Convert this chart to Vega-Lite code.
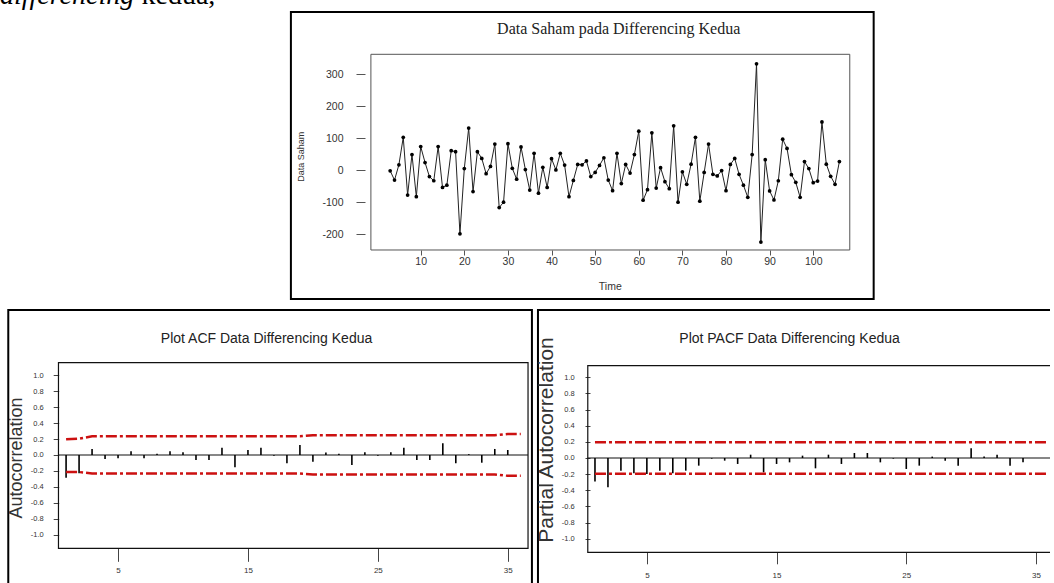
{
  "$schema": "https://vega.github.io/schema/vega-lite/v6.json",
  "width": 1054,
  "height": 583,
  "autosize": {"type": "fit", "contains": "padding"},
  "padding": 0,
  "background": "white",
  "config": {
    "view": {"stroke": null},
    "axis": {"domain": false, "grid": false, "labelOverlap": false, "labelFlush": false, "labelBound": false, "title": null}
  },
  "datasets": {
    "saham": [{"time":3,"value":-2},{"time":4,"value":-31},{"time":5,"value":17},{"time":6,"value":103},{"time":7,"value":-78},{"time":8,"value":49},{"time":9,"value":-83},{"time":10,"value":74},{"time":11,"value":24},{"time":12,"value":-20},{"time":13,"value":-33},{"time":14,"value":74},{"time":15,"value":-54},{"time":16,"value":-47},{"time":17,"value":61},{"time":18,"value":58},{"time":19,"value":-199},{"time":20,"value":5},{"time":21,"value":132},{"time":22,"value":-67},{"time":23,"value":58},{"time":24,"value":37},{"time":25,"value":-11},{"time":26,"value":12},{"time":27,"value":82},{"time":28,"value":-117},{"time":29,"value":-100},{"time":30,"value":83},{"time":31,"value":6},{"time":32,"value":-28},{"time":33,"value":73},{"time":34,"value":2},{"time":35,"value":-62},{"time":36,"value":53},{"time":37,"value":-72},{"time":38,"value":9},{"time":39,"value":-54},{"time":40,"value":36},{"time":41,"value":1},{"time":42,"value":53},{"time":43,"value":16},{"time":44,"value":-83},{"time":45,"value":-32},{"time":46,"value":18},{"time":47,"value":17},{"time":48,"value":29},{"time":49,"value":-20},{"time":50,"value":-7},{"time":51,"value":15},{"time":52,"value":39},{"time":53,"value":-31},{"time":54,"value":-64},{"time":55,"value":53},{"time":56,"value":-42},{"time":57,"value":18},{"time":58,"value":-9},{"time":59,"value":49},{"time":60,"value":122},{"time":61,"value":-94},{"time":62,"value":-61},{"time":63,"value":117},{"time":64,"value":-56},{"time":65,"value":8},{"time":66,"value":-36},{"time":67,"value":-58},{"time":68,"value":139},{"time":69,"value":-100},{"time":70,"value":-5},{"time":71,"value":-44},{"time":72,"value":19},{"time":73,"value":103},{"time":74,"value":-97},{"time":75,"value":-7},{"time":76,"value":82},{"time":77,"value":-13},{"time":78,"value":-18},{"time":79,"value":-1},{"time":80,"value":-64},{"time":81,"value":18},{"time":82,"value":37},{"time":83,"value":-13},{"time":84,"value":-47},{"time":85,"value":-85},{"time":86,"value":49},{"time":87,"value":333},{"time":88,"value":-225},{"time":89,"value":33},{"time":90,"value":-65},{"time":91,"value":-93},{"time":92,"value":-33},{"time":93,"value":97},{"time":94,"value":68},{"time":95,"value":-14},{"time":96,"value":-38},{"time":97,"value":-85},{"time":98,"value":27},{"time":99,"value":5},{"time":100,"value":-39},{"time":101,"value":-34},{"time":102,"value":151},{"time":103,"value":19},{"time":104,"value":-19},{"time":105,"value":-44},{"time":106,"value":27}],
    "acf": [{"lag":1,"r":-0.285},{"lag":2,"r":-0.23},{"lag":3,"r":0.075},{"lag":4,"r":-0.05},{"lag":5,"r":-0.04},{"lag":6,"r":0.046},{"lag":7,"r":-0.04},{"lag":8,"r":0.017},{"lag":9,"r":0.046},{"lag":10,"r":0.034},{"lag":11,"r":-0.063},{"lag":12,"r":-0.063},{"lag":13,"r":0.092},{"lag":14,"r":-0.155},{"lag":15,"r":0.063},{"lag":16,"r":0.092},{"lag":17,"r":-0.01},{"lag":18,"r":-0.105},{"lag":19,"r":0.126},{"lag":20,"r":-0.084},{"lag":21,"r":0.03},{"lag":22,"r":0.017},{"lag":23,"r":-0.126},{"lag":24,"r":0.034},{"lag":25,"r":-0.01},{"lag":26,"r":0.034},{"lag":27,"r":0.092},{"lag":28,"r":-0.063},{"lag":29,"r":-0.063},{"lag":30,"r":0.147},{"lag":31,"r":-0.105},{"lag":32,"r":0.01},{"lag":33,"r":-0.097},{"lag":34,"r":0.076},{"lag":35,"r":0.063}],
    "acfBand": [{"lag":1,"upper":0.198,"lower":-0.214},{"lag":2,"upper":0.205,"lower":-0.214},{"lag":3,"upper":0.235,"lower":-0.232},{"lag":4,"upper":0.235,"lower":-0.232},{"lag":5,"upper":0.235,"lower":-0.232},{"lag":6,"upper":0.235,"lower":-0.232},{"lag":7,"upper":0.235,"lower":-0.232},{"lag":8,"upper":0.235,"lower":-0.232},{"lag":9,"upper":0.235,"lower":-0.232},{"lag":10,"upper":0.235,"lower":-0.232},{"lag":11,"upper":0.235,"lower":-0.232},{"lag":12,"upper":0.235,"lower":-0.232},{"lag":13,"upper":0.235,"lower":-0.232},{"lag":14,"upper":0.235,"lower":-0.232},{"lag":15,"upper":0.235,"lower":-0.232},{"lag":16,"upper":0.235,"lower":-0.232},{"lag":17,"upper":0.235,"lower":-0.232},{"lag":18,"upper":0.235,"lower":-0.232},{"lag":19,"upper":0.235,"lower":-0.232},{"lag":20,"upper":0.248,"lower":-0.244},{"lag":21,"upper":0.248,"lower":-0.244},{"lag":22,"upper":0.248,"lower":-0.244},{"lag":23,"upper":0.248,"lower":-0.244},{"lag":24,"upper":0.248,"lower":-0.244},{"lag":25,"upper":0.248,"lower":-0.244},{"lag":26,"upper":0.248,"lower":-0.244},{"lag":27,"upper":0.248,"lower":-0.244},{"lag":28,"upper":0.248,"lower":-0.244},{"lag":29,"upper":0.248,"lower":-0.244},{"lag":30,"upper":0.248,"lower":-0.244},{"lag":31,"upper":0.248,"lower":-0.244},{"lag":32,"upper":0.248,"lower":-0.244},{"lag":33,"upper":0.248,"lower":-0.244},{"lag":34,"upper":0.248,"lower":-0.244},{"lag":35,"upper":0.265,"lower":-0.262},{"lag":36,"upper":0.265,"lower":-0.262}],
    "pacf": [{"lag":1,"r":-0.29},{"lag":2,"r":-0.363},{"lag":3,"r":-0.157},{"lag":4,"r":-0.19},{"lag":5,"r":-0.198},{"lag":6,"r":-0.157},{"lag":7,"r":-0.19},{"lag":8,"r":-0.157},{"lag":9,"r":-0.095},{"lag":10,"r":-0.008},{"lag":11,"r":-0.033},{"lag":12,"r":-0.074},{"lag":13,"r":0.041},{"lag":14,"r":-0.178},{"lag":15,"r":-0.074},{"lag":16,"r":-0.054},{"lag":17,"r":0.029},{"lag":18,"r":-0.128},{"lag":19,"r":0.041},{"lag":20,"r":-0.074},{"lag":21,"r":0.062},{"lag":22,"r":0.062},{"lag":23,"r":-0.054},{"lag":24,"r":-0.008},{"lag":25,"r":-0.136},{"lag":26,"r":-0.095},{"lag":27,"r":0.017},{"lag":28,"r":-0.033},{"lag":29,"r":-0.095},{"lag":30,"r":0.12},{"lag":31,"r":0.017},{"lag":32,"r":0.041},{"lag":33,"r":-0.095},{"lag":34,"r":-0.054}],
    "pacfBand": [{"lag":1,"upper":0.196,"lower":-0.196},{"lag":2,"upper":0.196,"lower":-0.196},{"lag":3,"upper":0.196,"lower":-0.196},{"lag":4,"upper":0.196,"lower":-0.196},{"lag":5,"upper":0.196,"lower":-0.196},{"lag":6,"upper":0.196,"lower":-0.196},{"lag":7,"upper":0.196,"lower":-0.196},{"lag":8,"upper":0.196,"lower":-0.196},{"lag":9,"upper":0.196,"lower":-0.196},{"lag":10,"upper":0.196,"lower":-0.196},{"lag":11,"upper":0.196,"lower":-0.196},{"lag":12,"upper":0.196,"lower":-0.196},{"lag":13,"upper":0.196,"lower":-0.196},{"lag":14,"upper":0.196,"lower":-0.196},{"lag":15,"upper":0.196,"lower":-0.196},{"lag":16,"upper":0.196,"lower":-0.196},{"lag":17,"upper":0.196,"lower":-0.196},{"lag":18,"upper":0.196,"lower":-0.196},{"lag":19,"upper":0.196,"lower":-0.196},{"lag":20,"upper":0.196,"lower":-0.196},{"lag":21,"upper":0.196,"lower":-0.196},{"lag":22,"upper":0.196,"lower":-0.196},{"lag":23,"upper":0.196,"lower":-0.196},{"lag":24,"upper":0.196,"lower":-0.196},{"lag":25,"upper":0.196,"lower":-0.196},{"lag":26,"upper":0.196,"lower":-0.196},{"lag":27,"upper":0.196,"lower":-0.196},{"lag":28,"upper":0.196,"lower":-0.196},{"lag":29,"upper":0.196,"lower":-0.196},{"lag":30,"upper":0.196,"lower":-0.196},{"lag":31,"upper":0.196,"lower":-0.196},{"lag":32,"upper":0.196,"lower":-0.196},{"lag":33,"upper":0.196,"lower":-0.196},{"lag":34,"upper":0.196,"lower":-0.196},{"lag":35,"upper":0.196,"lower":-0.196},{"lag":36,"upper":0.196,"lower":-0.196}]
  },
  "resolve": {"scale": {"x": "independent", "y": "independent"}},
  "layer": [
    {
      "layer": [
        {"data": {"values": [{}]}, "mark": {"type": "rect", "filled": false, "stroke": "#000", "strokeWidth": 2},
         "encoding": {"x": {"datum": -19.76, "type": "quantitative"}, "x2": {"datum": 113.86}, "y": {"datum": 495.3, "type": "quantitative"}, "y2": {"datum": -403.3}}},
        {"data": {"values": [{}]}, "mark": {"type": "rect", "filled": false, "stroke": "#555", "strokeWidth": 1},
         "encoding": {"x": {"datum": -1.42, "type": "quantitative"}, "x2": {"datum": 108.38}, "y": {"datum": 362.9, "type": "quantitative"}, "y2": {"datum": -249.8}}},
        {"data": {"name": "saham"}, "mark": {"type": "line", "color": "#222", "strokeWidth": 1},
         "encoding": {
           "x": {"field": "time", "type": "quantitative", "scale": {"domain": [-86.46, 154.29], "nice": false, "zero": false},
                 "axis": {"orient": "bottom", "offset": -333, "values": [10,20,30,40,50,60,70,80,90,100], "tickSize": 5, "tickColor": "#555", "labelPadding": 1, "labelFont": "Liberation Sans", "labelFontSize": 10.5, "labelColor": "#333", "title": null}},
           "y": {"field": "value", "type": "quantitative", "scale": {"domain": [-1292.4, 532.9], "nice": false, "zero": false},
                 "axis": {"orient": "left", "offset": -365, "values": [-200,-100,0,100,200,300], "tickSize": 9, "tickColor": "#555", "labelPadding": 13, "labelFont": "Liberation Sans", "labelFontSize": 10.5, "labelColor": "#333", "title": null, "labelExpr": "datum.value < 0 ? '-' + format(-datum.value, 'd') : format(datum.value, 'd')"}}
         }},
        {"data": {"name": "saham"}, "mark": {"type": "circle", "color": "#000", "size": 14, "opacity": 1},
         "encoding": {"x": {"field": "time", "type": "quantitative"}, "y": {"field": "value", "type": "quantitative"}}},
        {"data": {"values": [{}]}, "mark": {"type": "text", "text": "Data Saham pada Differencing Kedua", "font": "Liberation Serif", "fontSize": 16, "color": "#222", "align": "center", "baseline": "alphabetic"},
         "encoding": {"x": {"datum": 55.39, "type": "quantitative"}, "y": {"datum": 426.4, "type": "quantitative"}}},
        {"data": {"values": [{}]}, "mark": {"type": "text", "text": "Time", "font": "Liberation Sans", "fontSize": 10.5, "color": "#333", "align": "center", "baseline": "middle"},
         "encoding": {"x": {"datum": 53.47, "type": "quantitative"}, "y": {"datum": -364.7, "type": "quantitative"}}},
        {"data": {"values": [{}]}, "mark": {"type": "text", "text": "Data Saham", "font": "Liberation Sans", "fontSize": 9, "color": "#333", "align": "center", "baseline": "middle", "angle": 270},
         "encoding": {"x": {"datum": -17.41, "type": "quantitative"}, "y": {"datum": 42.3, "type": "quantitative"}}},
        {"data": {"values": [{}]}, "mark": {"type": "text", "text": "differencing", "font": "Liberation Serif", "fontSize": 28, "fontStyle": "italic", "color": "#000", "align": "left", "baseline": "alphabetic", "clip": true},
         "encoding": {"x": {"datum": -86.46, "type": "quantitative"}, "y": {"datum": 520.4, "type": "quantitative"}}},
        {"data": {"values": [{}]}, "mark": {"type": "text", "text": "kedua,", "font": "Liberation Serif", "fontSize": 28, "color": "#000", "align": "left", "baseline": "alphabetic", "clip": true},
         "encoding": {"x": {"datum": -54.02, "type": "quantitative"}, "y": {"datum": 520.4, "type": "quantitative"}}}
      ]
    },
    {
      "layer": [
        {"data": {"values": [{}]}, "mark": {"type": "rect", "filled": false, "stroke": "#000", "strokeWidth": 2, "clip": true},
         "encoding": {"x": {"datum": -3.45, "type": "quantitative"}, "x2": {"datum": 36.86}, "y": {"datum": 1.824, "type": "quantitative"}, "y2": {"datum": -1.75}}},
        {"data": {"values": [{}]}, "mark": {"type": "rect", "filled": false, "stroke": "#111", "strokeWidth": 1.2},
         "encoding": {"x": {"datum": 0.414, "type": "quantitative"}, "x2": {"datum": 36.56}, "y": {"datum": 1.161, "type": "quantitative"}, "y2": {"datum": -1.174}}},
        {"data": {"values": [{}]}, "mark": {"type": "rule", "color": "#111", "strokeWidth": 1.2},
         "encoding": {"x": {"datum": 0.414, "type": "quantitative"}, "x2": {"datum": 36.56}, "y": {"datum": 0, "type": "quantitative"}}},
        {"data": {"name": "acf"}, "mark": {"type": "rule", "color": "#000", "strokeWidth": 1.6},
         "encoding": {
           "x": {"field": "lag", "type": "quantitative", "scale": {"domain": [-4.087, 76.74], "nice": false, "zero": false},
                 "axis": {"orient": "bottom", "offset": -34.7, "values": [5,15,25,35], "tickSize": 13, "tickColor": "#444", "labelPadding": 5, "labelFont": "Liberation Sans", "labelFontSize": 8, "labelColor": "#333", "title": null}},
           "y": {"field": "r", "type": "quantitative", "scale": {"domain": [-1.61, 5.723], "nice": false, "zero": false},
                 "axis": {"orient": "left", "offset": -58.7, "values": [-1,-0.8,-0.6,-0.4,-0.2,0,0.2,0.4,0.6,0.8,1], "tickSize": 5.5, "tickColor": "#444", "labelPadding": 10, "labelFont": "Liberation Sans", "labelFontSize": 7.5, "labelColor": "#333", "title": null, "labelExpr": "datum.value < 0 ? '-' + format(-datum.value, '.1f') : format(datum.value, '.1f')"}},
           "y2": {"datum": 0}
         }},
        {"data": {"name": "acfBand"}, "mark": {"type": "line", "color": "#cc1111", "strokeWidth": 2.5, "strokeDash": [11, 3, 3, 3]},
         "encoding": {"x": {"field": "lag", "type": "quantitative"}, "y": {"field": "upper", "type": "quantitative"}}},
        {"data": {"name": "acfBand"}, "mark": {"type": "line", "color": "#cc1111", "strokeWidth": 2.5, "strokeDash": [11, 3, 3, 3]},
         "encoding": {"x": {"field": "lag", "type": "quantitative"}, "y": {"field": "lower", "type": "quantitative"}}},
        {"data": {"values": [{}]}, "mark": {"type": "text", "text": "Plot ACF Data Differencing Kedua", "font": "Liberation Sans", "fontSize": 14, "color": "#222", "align": "center", "baseline": "alphabetic"},
         "encoding": {"x": {"datum": 16.43, "type": "quantitative"}, "y": {"datum": 1.409, "type": "quantitative"}}},
        {"data": {"values": [{}]}, "mark": {"type": "text", "text": "Autocorrelation", "font": "Liberation Sans", "fontSize": 18, "color": "#333", "align": "center", "baseline": "middle", "angle": 270},
         "encoding": {"x": {"datum": -2.745, "type": "quantitative"}, "y": {"datum": -0.038, "type": "quantitative"}}}
      ]
    },
    {
      "layer": [
        {"data": {"values": [{}]}, "mark": {"type": "rect", "filled": false, "stroke": "#000", "strokeWidth": 2, "clip": true},
         "encoding": {"x": {"datum": -3.395, "type": "quantitative"}, "x2": {"datum": 40}, "y": {"datum": 1.834, "type": "quantitative"}, "y2": {"datum": -1.75}}},
        {"data": {"values": [{}]}, "mark": {"type": "rect", "filled": false, "stroke": "#111", "strokeWidth": 1.2, "clip": true},
         "encoding": {"x": {"datum": 0.445, "type": "quantitative"}, "x2": {"datum": 40}, "y": {"datum": 1.144, "type": "quantitative"}, "y2": {"datum": -1.169}}},
        {"data": {"values": [{}]}, "mark": {"type": "rule", "color": "#111", "strokeWidth": 1.2},
         "encoding": {"x": {"datum": 0.445, "type": "quantitative"}, "x2": {"datum": 36.08}, "y": {"datum": 0, "type": "quantitative"}}},
        {"data": {"name": "pacf"}, "mark": {"type": "rule", "color": "#000", "strokeWidth": 1.6},
         "encoding": {
           "x": {"field": "lag", "type": "quantitative", "scale": {"domain": [-44.87, 36.08], "nice": false, "zero": false},
                 "axis": {"orient": "bottom", "offset": -30.7, "values": [5,15,25,35], "tickSize": 11.5, "tickColor": "#444", "labelPadding": 8, "labelFont": "Liberation Sans", "labelFontSize": 8, "labelColor": "#333", "title": null}},
           "y": {"field": "r", "type": "quantitative", "scale": {"domain": [-1.549, 5.675], "nice": false, "zero": false},
                 "axis": {"orient": "left", "offset": -590, "values": [-1,-0.8,-0.6,-0.4,-0.2,0,0.2,0.4,0.6,0.8,1], "tickSize": 5, "tickColor": "#444", "labelPadding": 10.7, "labelFont": "Liberation Sans", "labelFontSize": 7.5, "labelColor": "#333", "title": null, "labelExpr": "datum.value < 0 ? '-' + format(-datum.value, '.1f') : format(datum.value, '.1f')"}},
           "y2": {"datum": 0}
         }},
        {"data": {"name": "pacfBand"}, "mark": {"type": "line", "color": "#cc1111", "strokeWidth": 2.5, "strokeDash": [11, 3, 3, 3]},
         "encoding": {"x": {"field": "lag", "type": "quantitative"}, "y": {"field": "upper", "type": "quantitative"}}},
        {"data": {"name": "pacfBand"}, "mark": {"type": "line", "color": "#cc1111", "strokeWidth": 2.5, "strokeDash": [11, 3, 3, 3]},
         "encoding": {"x": {"field": "lag", "type": "quantitative"}, "y": {"field": "lower", "type": "quantitative"}}},
        {"data": {"values": [{}]}, "mark": {"type": "text", "text": "Plot PACF Data Differencing Kedua", "font": "Liberation Sans", "fontSize": 14, "color": "#222", "align": "center", "baseline": "alphabetic"},
         "encoding": {"x": {"datum": 16.0, "type": "quantitative"}, "y": {"datum": 1.421, "type": "quantitative"}}},
        {"data": {"values": [{}]}, "mark": {"type": "text", "text": "Partial Autocorrelation", "font": "Liberation Sans", "fontSize": 21, "color": "#333", "align": "center", "baseline": "middle", "angle": 270},
         "encoding": {"x": {"datum": -2.70, "type": "quantitative"}, "y": {"datum": 0.223, "type": "quantitative"}}}
      ]
    }
  ]
}
